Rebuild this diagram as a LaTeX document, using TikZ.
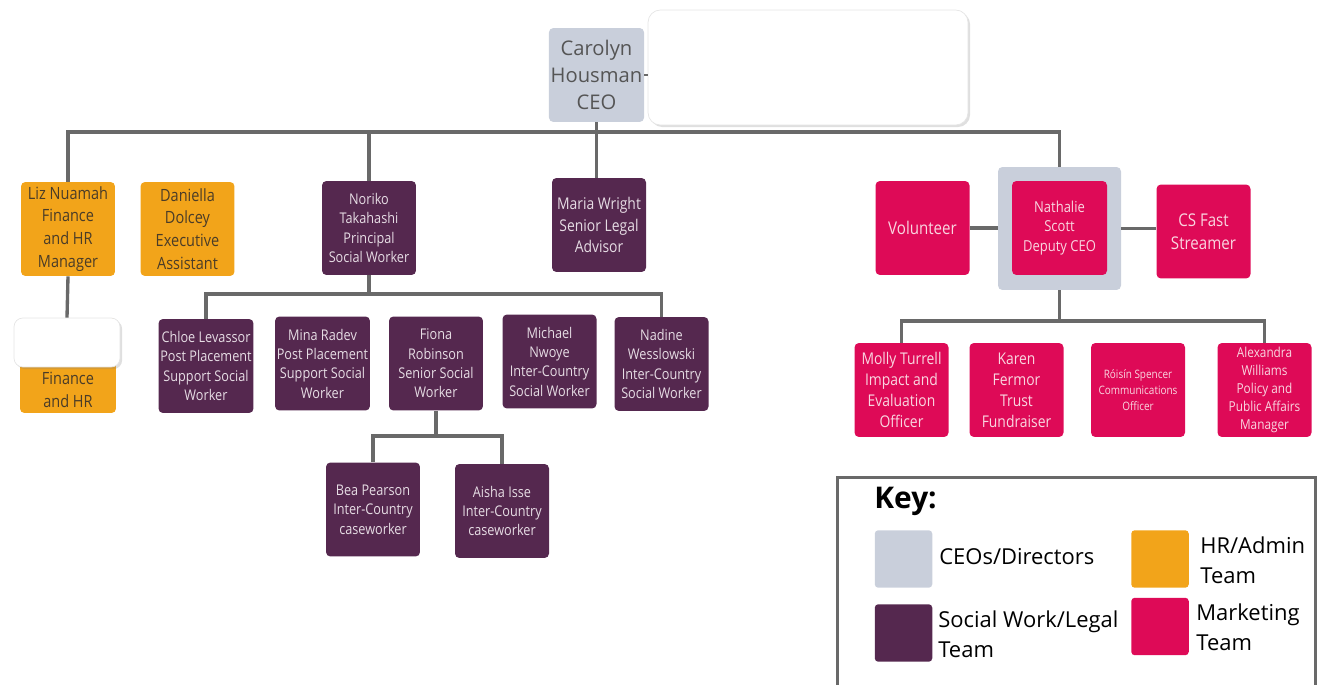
\documentclass[tikz,border=0pt]{standalone}
\usepackage{fontspec}
\setmainfont{Open Sans}
\newfontfamily\narrowsans{Open Sans}[FakeStretch=0.86]
\usetikzlibrary{
    positioning,
    shadows
}

\definecolor{ceogray}{HTML}{C9CFDB}
\definecolor{ceotext}{HTML}{555555}
\definecolor{hrorange}{HTML}{F2A41A}
\definecolor{hrtext}{HTML}{4A3C28}
\definecolor{swpurple}{HTML}{55284F}
\definecolor{swtext}{HTML}{E6DCE4}
\definecolor{mkpink}{HTML}{DE0A57}
\definecolor{mktext}{HTML}{F9D6E0}
\definecolor{linegray}{HTML}{696969}

\tikzset{
    box/.style={rectangle, rounded corners=2.5pt, minimum width=1.88cm,
        minimum height=1.88cm, inner sep=1pt, align=center},
    ceobox/.style={box, fill=ceogray, text=ceotext,
        font=\fontsize{11.5}{15.4}\selectfont},
    hrbox/.style={box, fill=hrorange, text=hrtext,
        font=\narrowsans\fontsize{9.6}{13}\selectfont},
    swbox/.style={box, fill=swpurple, text=swtext,
        font=\narrowsans\fontsize{8.4}{11}\selectfont},
    mkbox/.style={box, fill=mkpink, text=mktext,
        font=\narrowsans\fontsize{9.2}{12}\selectfont},
    card/.style={rectangle, rounded corners=7pt, fill=white, draw=black!10,
        drop shadow={opacity=0.25, shadow xshift=1.2pt, shadow yshift=-1.2pt}},
    link/.style={draw=linegray, line width=1.9pt},
    swatch/.style={rectangle, rounded corners=2pt, minimum size=1.15cm,
        inner sep=0pt},
    keylabel/.style={anchor=west, align=left, inner sep=0pt,
        font=\fontsize{12.5}{17}\selectfont}
}

\begin{document}
\begin{tikzpicture}[x=0.02cm,y=-0.02cm]
\useasboundingbox (0,0) rectangle (1324,685);

% CEO
\node[ceobox, minimum width=1.9cm] (ceo) at (596.5,75) {Carolyn\\Housman\\CEO};
\node[card, minimum width=6.4cm, minimum height=2.3cm] (note) at (808,67.5) {};

% HR / admin
\node[hrbox] (liz) at (68,229) {Liz Nuamah\\Finance\\and HR\\Manager};
\node[hrbox] (daniella) at (187.5,229) {Daniella\\Dolcey\\Executive\\Assistant};
\node[hrbox, minimum width=1.92cm, minimum height=1.9cm] (hrteam) at (68,365.5) {};
\node[card, rounded corners=5pt, minimum width=2.12cm, minimum height=0.98cm]
    (hrcard) at (67,342.5) {};
\node[hrbox, fill=none, minimum height=0pt] (hrteamtext) at (68,389.5) {Finance\\and HR};

% Social work / legal
\node[swbox] (noriko) at (369,228) {Noriko\\Takahashi\\Principal\\Social Worker};
\node[swbox, font=\narrowsans\fontsize{9.2}{12.2}\selectfont]
    (maria) at (599,225) {Maria Wright\\Senior Legal\\Advisor};
\node[swbox] (chloe) at (206,366) {Chloe Levassor\\Post Placement\\Support Social\\Worker};
\node[swbox] (mina) at (322.5,363.5) {Mina Radev\\Post Placement\\Support Social\\Worker};
\node[swbox] (fiona) at (436,363.5) {Fiona\\Robinson\\Senior Social\\Worker};
\node[swbox] (michael) at (549.5,361.5) {Michael\\Nwoye\\Inter-Country\\Social Worker};
\node[swbox] (nadine) at (661.5,364) {Nadine\\Wesslowski\\Inter-Country\\Social Worker};
\node[swbox] (bea) at (373,509.5) {Bea Pearson\\Inter-Country\\caseworker};
\node[swbox] (aisha) at (502,511) {Aisha Isse\\Inter-Country\\caseworker};

% Marketing
\node[box, fill=ceogray, minimum size=2.46cm] (deputyframe) at (1059.5,228.5) {};
\node[mkbox, minimum width=1.9cm, font=\narrowsans\fontsize{8.6}{11.3}\selectfont]
    (deputy) at (1059.5,228) {Nathalie\\Scott\\Deputy CEO};
\node[mkbox, font=\narrowsans\fontsize{10}{13}\selectfont]
    (volunteer) at (922.5,228) {Volunteer};
\node[mkbox, font=\narrowsans\fontsize{10}{13}\selectfont]
    (csfast) at (1203.5,231.5) {CS Fast\\Streamer};
\node[mkbox] (molly) at (901.5,390) {Molly Turrell\\Impact and\\Evaluation\\Officer};
\node[mkbox] (karen) at (1016.5,390) {Karen\\Fermor\\Trust\\Fundraiser};
\node[mkbox, font=\narrowsans\fontsize{6.6}{9}\selectfont]
    (roisin) at (1138,390) {Róisín Spencer\\Communications\\Officer};
\node[mkbox, font=\narrowsans\fontsize{7.8}{10.2}\selectfont]
    (alex) at (1264.5,390) {Alexandra\\Williams\\Policy and\\Public Affairs\\Manager};

% Lines
\coordinate (topbar) at (598,132);
\coordinate (swbar) at (369,294);
\coordinate (fionabar) at (436,436);
\coordinate (mkbar) at (1059.5,321);

\draw[link] (liz.north) |- (topbar) -| (deputyframe.north);
\draw[link] (ceo.south) -- (ceo.south |- maria.north);
\draw[link] (noriko.north) -- (noriko.north |- topbar);
\draw[link, line width=1pt] (ceo.east) -- (ceo.east -| note.west);
\draw[link] (liz.south) -- (hrcard.north);

\draw[link] (noriko.south) -- (swbar);
\draw[link] (chloe.north) |- (swbar) -| (nadine.north);
\draw[link] (fiona.south) -- (fionabar);
\draw[link] (bea.north) |- (fionabar) -| (aisha.north);

\draw[link] (volunteer.east) -- (volunteer.east -| deputyframe.west);
\draw[link] (deputyframe.east) -- (deputyframe.east -| csfast.west);
\draw[link] (deputyframe.south) -- (mkbar);
\draw[link] (molly.north) |- (mkbar) -| (alex.north);

% Key
\node[draw=linegray, line width=1.7pt, minimum width=9.58cm,
      minimum height=4.6cm] (key) at (1076.5,592) {};
\node[anchor=west, inner sep=0pt, font=\bfseries\fontsize{17}{20}\selectfont]
    (keytitle) at (874,501) {Key:};
\node[swatch, fill=ceogray] (keyceo) at (903.5,559) {};
\node[swatch, fill=swpurple] (keysw) at (903.5,633) {};
\node[swatch, fill=hrorange] (keyhr) at (1160,559) {};
\node[swatch, fill=mkpink] (keymk) at (1160,626.5) {};
\node[keylabel] at (939,557) {CEOs/Directors};
\node[keylabel] at (938,634) {Social Work/Legal\\Team};
\node[keylabel] at (1200,560) {HR/Admin\\Team};
\node[keylabel] at (1196,627) {Marketing\\Team};

\end{tikzpicture}
\end{document}
